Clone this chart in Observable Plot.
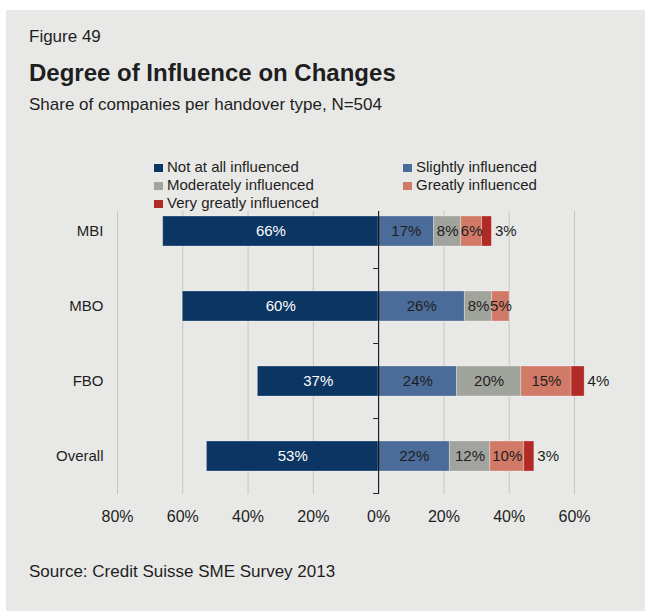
<!DOCTYPE html>
<html><head><meta charset="utf-8">
<script src="https://cdn.jsdelivr.net/npm/d3@7"></script>
<script src="https://cdn.jsdelivr.net/npm/@observablehq/plot@0.6"></script>
<style>
body{margin:0;background:#fff;font-family:"Liberation Sans",Arial,sans-serif;width:645px;height:611px;overflow:hidden;}
#panel{position:absolute;left:6px;top:10px;width:639px;height:601px;background:#e8e9e6;}
#chart{position:absolute;left:0;top:0;}
.t{position:absolute;color:#1e1e1e;white-space:nowrap;line-height:1;}
#legend{position:absolute;left:110px;top:150px;width:480px;height:61px;background:#e8e9e6;}
.li{position:absolute;font-size:15px;line-height:1;color:#1e1e1e;white-space:nowrap;}
.sw{display:inline-block;width:9px;height:8px;margin-right:4px;vertical-align:0px;}
</style></head>
<body>
<div id="panel"></div>
<div id="chart"></div>
<div id="legend"></div>
<div class="t" style="left:29px;top:28px;font-size:17px;">Figure 49</div>
<div class="t" style="left:29px;top:61px;font-size:24px;font-weight:bold;">Degree of Influence on Changes</div>
<div class="t" style="left:29px;top:96px;font-size:17px;">Share of companies per handover type, N=504</div>
<div class="t" style="left:29px;top:563px;font-size:17px;">Source: Credit Suisse SME Survey 2013</div>
<script>
const categories = ["MBI", "MBO", "FBO", "Overall"];
const seriesNames = ["Not at all influenced", "Slightly influenced", "Moderately influenced", "Greatly influenced", "Very greatly influenced"];
const seriesColors = ["#0b3562", "#4b6b98", "#a1a49d", "#d27a68", "#b02b26"];
const notAtAll    = [66, 60, 37, 52.6];
const slightly    = [17, 26.4, 24, 21.8];
const moderately  = [8.3, 8.4, 19.7, 12.4];
const greatly     = [6.4, 5.3, 15.4, 10.4];
const veryGreatly = [3, 0, 4, 3.1];
const xTicks = [-80, -60, -40, -20, 0, 20, 40, 60];

const seriesValues = [notAtAll, slightly, moderately, greatly, veryGreatly];
const rows = [];
categories.forEach((c, i) => seriesValues.forEach((vals, s) => {
  rows.push({cat: c, series: seriesNames[s], value: vals[i], signed: s === 0 ? -vals[i] : vals[i], label: Math.round(vals[i]) + "%"});
}));
const totals = categories.map((c, i) => ({cat: c, total: slightly[i] + moderately[i] + greatly[i] + veryGreatly[i], v: veryGreatly[i], label: Math.round(veryGreatly[i]) + "%"}));

const fontFamily = "Liberation Sans, Arial, sans-serif";

const catTicks = (index, scales) => {
  const g = d3.create("svg:g");
  const x = scales.x, y = scales.y;
  const bw = y.bandwidth ? y.bandwidth() : 30;
  const step = y.step ? y.step() : bw / 0.4;
  categories.forEach(c => {
    const yy = y(c) + bw + (step - bw) / 2;
    g.append("line").attr("x1", x(0) - 5).attr("x2", x(0)).attr("y1", yy).attr("y2", yy)
      .attr("stroke", "#222").attr("stroke-width", 1);
  });
  return g.node();
};

const plot = Plot.plot({
  width: 645, height: 540,
  marginLeft: 117, marginRight: 71, marginTop: 193, marginBottom: 46,
  style: {background: "transparent", fontFamily, color: "#1e1e1e", overflow: "visible"},
  x: {domain: [-80, 60], label: null},
  y: {domain: categories, paddingInner: 0.6, paddingOuter: 0.3, label: null},
  color: {domain: seriesNames, range: seriesColors},
  marks: [
    Plot.gridX(xTicks.filter(d => d !== 0), {stroke: "#c5c6c3", strokeOpacity: 1}),
    Plot.barX(rows, Plot.stackX({x: "signed", y: "cat", z: "series", fill: "series", order: seriesNames, stroke: "#ffffff", strokeOpacity: 0.35, strokeWidth: 0.8})),
    Plot.ruleX([0], {stroke: "#000", strokeWidth: 1}),
    catTicks,
    Plot.text(rows.filter(d => d.series === seriesNames[0]), Plot.stackX({x: "signed", y: "cat", z: "series", order: seriesNames, text: "label", fill: "#ffffff", fontSize: 15})),
    Plot.text(rows.filter(d => d.series !== seriesNames[0] && d.series !== seriesNames[4]), Plot.stackX({x: "signed", y: "cat", z: "series", order: seriesNames, text: "label", fill: "#1e1e1e", fontSize: 15})),
    Plot.text(totals.filter(d => d.v > 0), {x: "total", y: "cat", text: "label", textAnchor: "start", dx: 3, fill: "#1e1e1e", fontSize: 15}),
    Plot.axisX({ticks: xTicks, tickSize: 0, tickPadding: 16, fontSize: 16, label: null, tickFormat: d => Math.abs(d) + "%"}),
    Plot.axisY({tickSize: 0, tickPadding: 14, fontSize: 15, label: null})
  ]
});
document.getElementById("chart").appendChild(plot);

// legend
const legendPos = [[44, 9], [293, 9], [44, 27], [293, 27], [44, 45]];
const legend = document.getElementById("legend");
seriesNames.forEach((name, i) => {
  const el = document.createElement("div");
  el.className = "li";
  el.style.left = legendPos[i][0] + "px";
  el.style.top = legendPos[i][1] + "px";
  el.innerHTML = `<span class="sw" style="background:${seriesColors[i]}"></span>${name}`;
  legend.appendChild(el);
});
</script>
</body></html>
